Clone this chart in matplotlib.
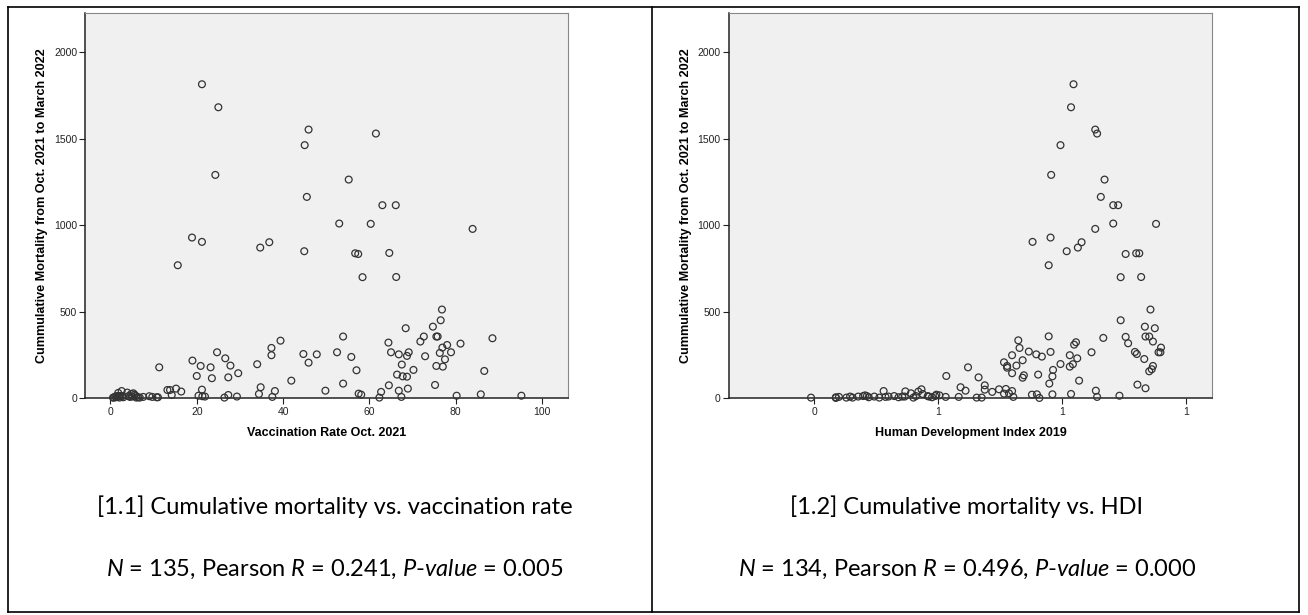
import matplotlib
matplotlib.use('Agg')
import matplotlib.pyplot as plt
from matplotlib.lines import Line2D
from matplotlib.ticker import FuncFormatter

plt.rcParams['mathtext.fontset'] = 'custom'
plt.rcParams['mathtext.it'] = 'Lato:italic'
plt.rcParams['mathtext.rm'] = 'Lato'

# 图1.1 疫苗接种率 vs 累计死亡率
vacc_rate = [21.2, 25.0, 45.9, 61.5, 45.0, 24.3, 55.2, 45.5, 63.0, 66.1, 53.0, 60.3, 83.9, 18.9, 21.2, 36.8,
             34.7, 44.9, 56.7, 57.4, 64.6, 15.6, 58.4, 66.2,
             76.8, 76.5, 74.7, 68.4, 72.6, 53.9, 75.5, 75.8, 88.5, 71.8, 64.4, 39.4, 81.1, 78.0, 76.9, 37.3,
             76.3, 78.9, 65.0, 66.8, 69.1, 68.7, 72.9, 24.7, 44.7, 47.8, 52.5, 55.8, 37.3, 26.6, 77.5, 19.0,
             45.9, 67.5, 34.0, 20.9, 27.8, 75.5, 77.0, 23.2, 11.3, 70.2, 57.0, 86.6, 29.6, 66.4, 68.7, 67.7,
             20.0, 27.3, 23.5, 41.9, 53.9, 64.5, 75.2, 68.9, 34.8, 15.2, 49.8, 66.8, 38.1, 21.2, 16.4, 13.2,
             13.8, 62.7, 85.8, 34.4, 57.5, 58.1, 27.3, 14.2, 95.2, 80.2, 20.4, 21.9, 21.3, 29.3, 37.5, 67.4,
             26.4, 62.3,
             0.6, 0.8, 1.1, 1.3, 1.5, 1.7, 1.8, 2.0, 2.1, 2.3, 2.6, 2.8, 3.0, 3.9, 4.2, 4.5, 4.8, 5.0, 5.3,
             5.6, 5.9, 6.0, 6.4, 6.8, 7.6, 9.0, 9.7, 10.7, 11.0]
vacc_mort = [1815, 1682, 1553, 1530, 1463, 1291, 1264, 1164, 1116, 1116, 1010, 1008, 979, 929, 904, 902,
             871, 850, 838, 834, 840, 769, 700, 701,
             513, 451, 414, 405, 357, 357, 357, 357, 347, 328, 322, 333, 316, 308, 293, 291,
             262, 266, 266, 254, 266, 245, 243, 266, 256, 254, 266, 239, 249, 231, 225, 218,
             206, 195, 197, 187, 189, 187, 183, 179, 179, 164, 162, 158, 145, 137, 125, 127,
             129, 121, 116, 102, 85, 75, 77, 56, 64, 56, 44, 44, 42, 50, 39, 48,
             48, 37, 23, 25, 27, 21, 19, 19, 15, 15, 15, 10, 12, 10, 8, 8,
             4, 4,
             4, 4, 10, 6, 13, 8, 31, 13, 4, 13, 42, 13, 6, 33, 13, 8, 25, 10, 29,
             21, 13, 4, 6, 4, 8, 12, 8, 6, 6]

# 图1.2 HDI vs 累计死亡率
hdi = [0.818, 0.814, 0.853, 0.856, 0.797, 0.782, 0.868, 0.862, 0.882, 0.890, 0.882, 0.951, 0.853, 0.781,
       0.752, 0.831, 0.825, 0.807, 0.902, 0.919, 0.924, 0.778, 0.894, 0.927,
       0.942, 0.894, 0.933, 0.949, 0.778, 0.902, 0.934, 0.940, 0.866, 0.729, 0.822, 0.819, 0.946, 0.906,
       0.959, 0.731, 0.847, 0.917, 0.920, 0.955, 0.958, 0.746, 0.781, 0.758, 0.719, 0.767, 0.812, 0.736,
       0.932, 0.824, 0.706, 0.726, 0.711, 0.711, 0.797, 0.812, 0.817, 0.946, 0.944, 0.940, 0.785, 0.648,
       0.719, 0.761, 0.738, 0.736, 0.784, 0.665, 0.613, 0.827, 0.779, 0.921, 0.934, 0.636, 0.675, 0.675,
       0.644, 0.698, 0.687, 0.709, 0.719, 0.854, 0.892, 0.706, 0.714, 0.751, 0.759, 0.784, 0.814, 0.721,
       0.763, 0.856, 0.633, 0.662, 0.670, 0.612, 0.602, 0.595,
       0.395, 0.435, 0.435, 0.452, 0.458, 0.471, 0.479, 0.482, 0.485, 0.497, 0.512, 0.515, 0.529, 0.542,
       0.546, 0.547, 0.556, 0.564, 0.568, 0.573, 0.575, 0.583, 0.585, 0.597,
       0.440, 0.462, 0.488, 0.505, 0.520, 0.536, 0.560, 0.590]
hdi_mort = [1815, 1682, 1553, 1530, 1463, 1291, 1264, 1164, 1116, 1116, 1010, 1008, 979, 929,
            904, 902, 871, 850, 834, 838, 838, 769, 700, 701,
            513, 451, 414, 405, 358, 355, 357, 357, 349, 335, 324, 310, 328, 318,
            293, 291, 266, 268, 256, 266, 266, 270, 268, 254, 249, 241, 249, 220,
            227, 231, 208, 189, 187, 177, 198, 183, 197, 187, 168, 156, 164, 179,
            145, 137, 133, 119, 127, 121, 129, 102, 85, 79, 58, 64, 75, 50,
            44, 52, 37, 54, 42, 44, 15, 27, 29, 21, 23, 23, 25, 8,
            2, 8, 8, 4, 4, 8, 17, 13,
            4, 6, 2, 4, 10, 10, 13, 17, 13, 10, 42, 8, 13, 10,
            10, 40, 29, 13, 39, 52, 25, 13, 10, 21,
            8, 4, 6, 4, 10, 6, 4, 6]

y_label = 'Cummulative Mortality from Oct. 2021 to March 2022'
x_labels = ['Vaccination Rate Oct. 2021', 'Human Development Index 2019']
titles = ['[1.1] Cumulative mortality vs. vaccination rate', '[1.2] Cumulative mortality vs. HDI']
stats = ['$N$ = 135, Pearson $R$ = 0.241, $P$-$value$ = 0.005',
         '$N$ = 134, Pearson $R$ = 0.496, $P$-$value$ = 0.000']

W, H = 1308, 615
fig = plt.figure(figsize=(W / 100, H / 100), dpi=100)
fig.patch.set_facecolor('white')

tick_font = ['Liberation Sans Narrow', 'Liberation Sans']


def px(x0, y0, x1, y1):
    # 像素坐标 -> figure 坐标
    return [x0 / W, 1 - y1 / H, (x1 - x0) / W, (y1 - y0) / H]


def draw_panel(rect, xs, ys, xlim, xticks, xfmt, xlabel):
    ax = fig.add_axes(rect)
    ax.set_facecolor('#f0f0f0')
    ax.scatter(xs, ys, s=24, facecolors='none', edgecolors='#333333', linewidths=0.9, clip_on=False, zorder=3)
    ax.set_xlim(xlim)
    ax.set_ylim(0, 2225)
    ax.set_yticks([0, 500, 1000, 1500, 2000])
    ax.set_xticks(xticks)
    ax.xaxis.set_major_formatter(xfmt)
    for s in ['left', 'bottom']:
        ax.spines[s].set_color('#222222')
        ax.spines[s].set_linewidth(1.1)
    for s in ['top', 'right']:
        ax.spines[s].set_color('#888888')
        ax.spines[s].set_linewidth(0.8)
    ax.tick_params(direction='out', length=4, width=0.8, color='#222222', labelsize=7.5, labelcolor='#222222', pad=2)
    for lab in ax.get_xticklabels() + ax.get_yticklabels():
        lab.set_family(tick_font)
    ax.set_ylabel(y_label, fontsize=9.1, fontweight='bold', family='Liberation Sans')
    ax.yaxis.set_label_coords(-0.09, 0.5)
    ax.yaxis.label.set_va('center')
    ax.set_xlabel(xlabel, fontsize=9, fontweight='bold', family=tick_font)
    ax.xaxis.set_label_coords(0.5, -0.09)
    ax.xaxis.label.set_va('center')
    return ax


draw_panel(px(85.4, 13.3, 568, 398.3), vacc_rate, vacc_mort, (-5.8, 106), [0, 20, 40, 60, 80, 100],
           FuncFormatter(lambda v, p: '%d' % v), x_labels[0])
draw_panel(px(729.1, 13.3, 1211.9, 398.3), hdi, hdi_mort, (0.263, 1.041), [0.4, 0.6, 0.8, 1.0],
           FuncFormatter(lambda v, p: '%.0f' % v), x_labels[1])

# 标题和统计量
for cx, t, st in zip([335, 967], titles, stats):
    fig.text(cx / W, 1 - 507 / H, t, ha='center', va='center', fontsize=17, family='Lato')
    fig.text(cx / W, 1 - 569 / H, st, ha='center', va='center', fontsize=17, family='Lato')

# 表格边框
lw = 1.2
for (x0, y0, x1, y1) in [(8, 7, 1299, 7), (8, 7, 8, 612), (652, 7, 652, 612), (1299, 7, 1299, 612),
                         (8, 612, 1299, 612)]:
    fig.add_artist(Line2D([x0 / W, x1 / W], [1 - y0 / H, 1 - y1 / H], color='black', lw=lw))

plt.savefig('out.png', dpi=100)
